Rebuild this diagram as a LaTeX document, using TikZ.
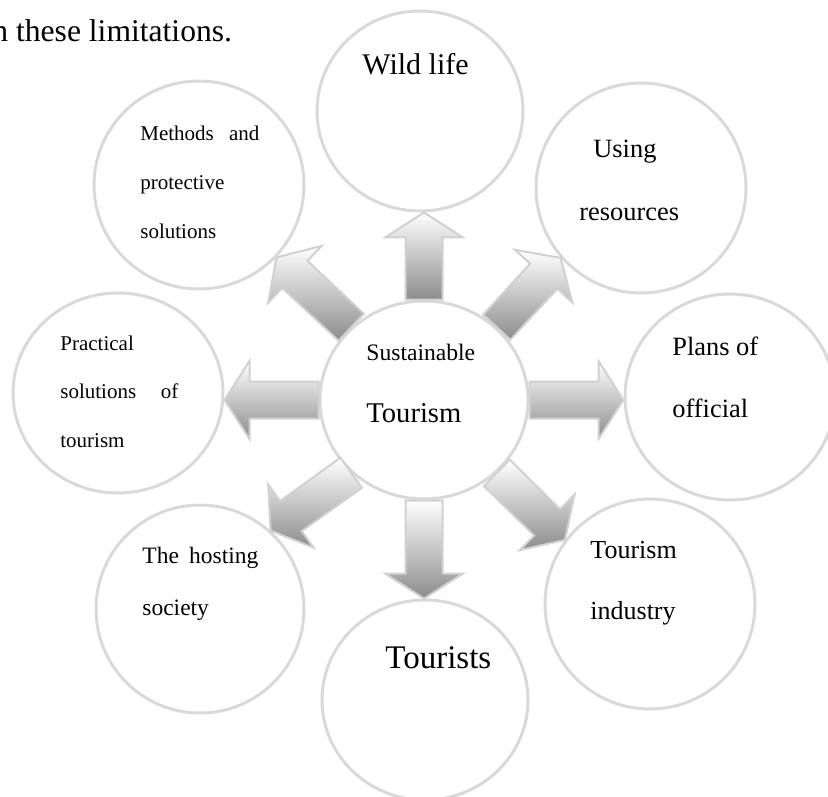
\documentclass[tikz,border=0pt]{standalone}
\usepackage{fontspec}
\setmainfont{Liberation Serif}
\usetikzlibrary{shapes.geometric,calc}
\tikzset{
  bubble/.style={ellipse, draw=black!15, line width=1.5pt, minimum width=105pt, minimum height=102pt, inner sep=0pt},
  flow/.style={draw=black!18, line width=1pt, top color=white, bottom color=black!45},
  txt/.style={anchor=base west, inner sep=0pt}
}
% block arrow from #1 to the tip #2
\newcommand{\fatarrow}[2]{%
  \coordinate (fa-s) at (#1);
  \coordinate (fa-t) at (#2);
  \coordinate (fa-h) at ($(fa-t)!12.5pt!(fa-s)$);
  \draw[flow] ($(fa-s)!9.25pt!90:(fa-t)$) -- ($(fa-h)!9.25pt!90:(fa-t)$)
    -- ($(fa-h)!19.5pt!90:(fa-t)$) -- (fa-t)
    -- ($(fa-h)!19.5pt!-90:(fa-t)$) -- ($(fa-h)!9.25pt!-90:(fa-t)$)
    -- ($(fa-s)!9.25pt!-90:(fa-t)$) -- cycle;
}
\begin{document}
\begin{tikzpicture}[x=0.5pt,y=-0.5pt]
    \useasboundingbox (0,0) rectangle (828,796);
    % the circles
    \node[bubble, minimum width=104pt, minimum height=99pt] (hub) at (424,400) {};
    \node[bubble, minimum width=103pt, minimum height=100pt] (wild) at (420,111) {};
    \node[bubble, minimum height=105pt] (using) at (641,188) {};
    \node[bubble, minimum height=103pt] (plans) at (730,397) {};
    \node[bubble, minimum height=105pt] (industry) at (650,604) {};
    \node[bubble, minimum width=103pt, minimum height=100pt] (tourists) at (425,700) {};
    \node[bubble, minimum width=104pt, minimum height=104pt] (hosting) at (200,609) {};
    \node[bubble, minimum height=100pt] (practical) at (118,393) {};
    \node[bubble, minimum height=104pt] (methods) at (199,185) {};
    % the arrows out of the hub
    \fatarrow{hub.north}{hub.north |- wild.south}
    \fatarrow{hub.45}{using.221}
    \fatarrow{hub.east}{hub.east -| plans.west}
    \fatarrow{hub.-45}{industry.143}
    \fatarrow{hub.south}{hub.south |- tourists.north}
    \fatarrow{hub.-135}{hosting.48}
    \fatarrow{hub.west}{hub.west -| practical.east}
    \fatarrow{hub.135}{methods.-43}
    % the texts
    \node[txt, font=\fontsize{15.8}{19}\selectfont] (intro) at (-8,42) {n these limitations.};
    \node[txt, font=\fontsize{11.8}{14}\selectfont] (sust) at (366,360) {Sustainable};
    \node[txt, font=\fontsize{14.3}{17}\selectfont] (tour) at (366,422) {Tourism};
    \node[txt, font=\fontsize{15}{18}\selectfont] (wildtxt) at (362,75) {Wild life};
    \node[txt, font=\fontsize{13.2}{31.5}\selectfont] (usingtxt) at (579,158)
        {\parbox[t]{70pt}{\hspace*{7pt}Using\\resources}};
    \node[txt, font=\fontsize{13.2}{31}\selectfont] (planstxt) at (672,355)
        {\parbox[t]{70pt}{Plans of\\official}};
    \node[txt, font=\fontsize{13}{30.5}\selectfont] (industrytxt) at (590,558)
        {\parbox[t]{70pt}{Tourism\\industry}};
    \node[txt, font=\fontsize{16.5}{20}\selectfont] (touriststxt) at (385,668) {Tourists};
    \node[txt, font=\fontsize{11.75}{26}\selectfont] (hostingtxt) at (142,563)
        {\parbox[t]{70pt}{\makebox[58pt][s]{The hosting}\\society}};
    \node[txt, font=\fontsize{10.5}{24.25}\selectfont] (practicaltxt) at (60,350)
        {\parbox[t]{70pt}{Practical\\\makebox[59pt][s]{solutions of}\\tourism}};
    \node[txt, font=\fontsize{10.5}{24.5}\selectfont] (methodstxt) at (140,141)
        {\parbox[t]{70pt}{\makebox[59.5pt][s]{Methods and}\\protective\\solutions}};
\end{tikzpicture}
\end{document}
